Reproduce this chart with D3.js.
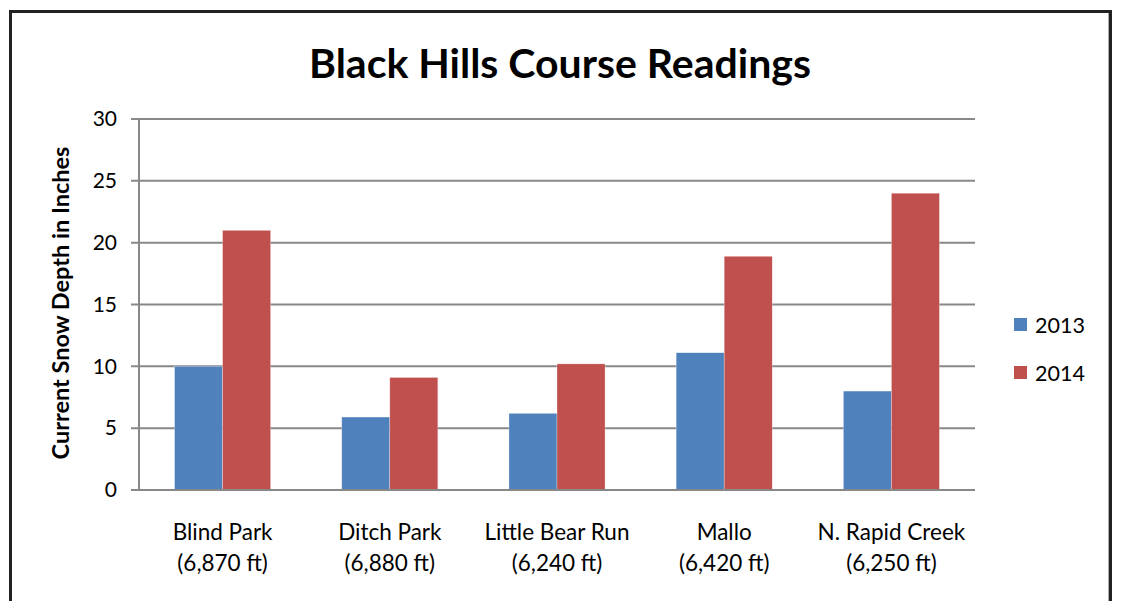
<!DOCTYPE html>
<html>
<head>
<meta charset="utf-8">
<title>Black Hills Course Readings</title>
<script src="https://d3js.org/d3.v7.min.js"></script>
<style>
  body { margin: 0; background: #fff; }
  svg text { font-family: Lato, "Open Sans", sans-serif; fill: #000; }
</style>
</head>
<body>
<div id="chart"></div>
<script>
// data
var courses = ["Blind Park", "Ditch Park", "Little Bear Run", "Mallo", "N. Rapid Creek"];
var elevations = ["(6,870 ft)", "(6,880 ft)", "(6,240 ft)", "(6,420 ft)", "(6,250 ft)"];
var years = ["2013", "2014"];
var depth2013 = [10, 5.9, 6.2, 11.1, 8];
var depth2014 = [21, 9.1, 10.2, 18.9, 24];
var yTicks = [0, 5, 10, 15, 20, 25, 30];

var width = 1127, height = 601;
var plotLeft = 139, plotRight = 975, plotTop = 119, plotBottom = 490;
var colors = ["#4F81BD", "#C0504D"];

var svg = d3.select("#chart").append("svg")
    .attr("width", width)
    .attr("height", height);

// outer frame (bottom edge is cut off in the picture)
svg.append("path")
    .attr("d", "M10.5,601 V11.5 H1110.5 V601")
    .attr("fill", "none")
    .attr("stroke", "#222")
    .attr("stroke-width", 3);
svg.append("line")
    .attr("x1", 1108.5).attr("x2", 1108.5)
    .attr("y1", 13).attr("y2", 601)
    .attr("stroke", "#aaa").attr("stroke-width", 1);

var x0 = d3.scaleBand()
    .domain(courses)
    .range([plotLeft, plotRight])
    .paddingInner(0)
    .paddingOuter(0);

var x1 = d3.scaleBand()
    .domain(years)
    .range([0, x0.bandwidth()])
    .paddingInner(0)
    .paddingOuter(0.74);

var y = d3.scaleLinear()
    .domain([0, 30])
    .range([plotBottom, plotTop]);

// gridlines
svg.append("g")
    .selectAll("line")
    .data(yTicks)
    .join("line")
    .attr("x1", plotLeft - 8)
    .attr("x2", plotRight)
    .attr("y1", d => y(d))
    .attr("y2", d => y(d))
    .attr("stroke", "#888")
    .attr("stroke-width", 2);

// y axis labels
var yAxis = d3.axisLeft(y)
    .tickValues(yTicks)
    .tickSize(0)
    .tickPadding(22);
var yg = svg.append("g")
    .attr("transform", "translate(" + plotLeft + ",0)")
    .call(yAxis);
yg.select(".domain").remove();
yg.selectAll("text")
    .attr("font-size", 21)
    .attr("font-family", "Lato, sans-serif")
    .attr("fill", "#000");

// bars
var series = [depth2013, depth2014];
var groups = svg.append("g")
    .selectAll("g")
    .data(courses)
    .join("g")
    .attr("transform", d => "translate(" + x0(d) + ",0)");

groups.selectAll("rect")
    .data((d, i) => years.map((yr, j) => ({ year: yr, value: series[j][i], k: j })))
    .join("rect")
    .attr("x", d => x1(d.year))
    .attr("width", x1.bandwidth())
    .attr("y", d => y(d.value))
    .attr("height", d => y(0) - y(d.value))
    .attr("fill", d => colors[d.k])
    .attr("stroke", "rgba(255,255,255,0.5)")
    .attr("stroke-width", 0.6);

// axis lines
svg.append("line")
    .attr("x1", plotLeft).attr("x2", plotLeft)
    .attr("y1", plotTop).attr("y2", plotBottom)
    .attr("stroke", "#888").attr("stroke-width", 2);
svg.append("line")
    .attr("x1", plotLeft - 8).attr("x2", plotRight)
    .attr("y1", plotBottom).attr("y2", plotBottom)
    .attr("stroke", "#888").attr("stroke-width", 2);

// category labels
var cat = svg.append("g")
    .selectAll("text")
    .data(courses)
    .join("text")
    .attr("x", d => x0(d) + x0.bandwidth() / 2)
    .attr("y", 540)
    .attr("text-anchor", "middle")
    .attr("font-size", 22.5);
cat.append("tspan").text(d => d);
cat.append("tspan")
    .attr("x", d => x0(d) + x0.bandwidth() / 2)
    .attr("dy", 31)
    .text((d, i) => elevations[i]);

// title
svg.append("text")
    .attr("x", 560)
    .attr("y", 78)
    .attr("text-anchor", "middle")
    .attr("font-size", 41)
    .attr("font-weight", "bold")
    .text("Black Hills Course Readings");

// y axis title
svg.append("text")
    .attr("transform", "translate(69," + 303 + ") rotate(-90)")
    .attr("text-anchor", "middle")
    .attr("font-size", 23.5)
    .attr("font-weight", "bold")
    .text("Current Snow Depth in Inches");

// legend
var legend = svg.append("g")
    .selectAll("g")
    .data(years)
    .join("g")
    .attr("transform", (d, i) => "translate(1014," + (318 + i * 48) + ")");
legend.append("rect")
    .attr("width", 13).attr("height", 13)
    .attr("fill", (d, i) => colors[i]);
legend.append("text")
    .attr("x", 21)
    .attr("y", 15)
    .attr("font-size", 21.5)
    .text(d => d);
</script>
</body>
</html>
